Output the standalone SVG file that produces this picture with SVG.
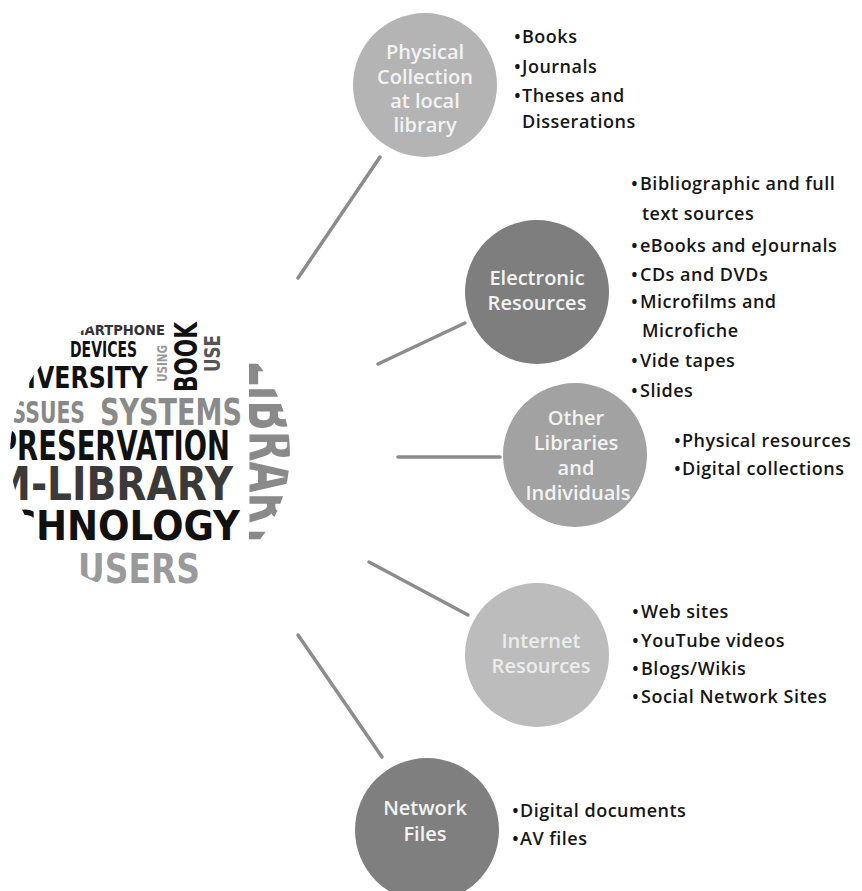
<svg xmlns="http://www.w3.org/2000/svg" width="862" height="891" viewBox="0 0 862 891">
<style>
.nt{font-family:"Open Sans","Noto Sans",sans-serif;font-weight:600;font-size:20px;fill:#f3f3f3;text-anchor:middle;}
.bl{font-family:"Open Sans","Noto Sans",sans-serif;font-weight:600;font-size:18px;fill:#161616;letter-spacing:0.5px;}
.wc{font-family:"DejaVu Sans","Noto Sans",sans-serif;font-weight:bold;}
.conn line{stroke:#8c8c8c;stroke-width:3.5;stroke-linecap:round;}
</style>
<defs>
<clipPath id="cloudClip"><circle cx="150" cy="453" r="140"/></clipPath>
</defs>
<rect width="862" height="891" fill="#ffffff"/>

<g id="connectors" class="conn">
<line x1="298" y1="278" x2="380" y2="157"/>
<line x1="378" y1="364" x2="465" y2="323"/>
<line x1="398" y1="457" x2="500" y2="457"/>
<line x1="369" y1="562" x2="468" y2="615"/>
<line x1="298" y1="635" x2="382" y2="757"/>
</g>

<g id="wordcloud" clip-path="url(#cloudClip)">
<text class="wc" x="62" y="335" font-size="14" fill="#333" textLength="103" lengthAdjust="spacingAndGlyphs">SMARTPHONE</text>
<text class="wc" x="70" y="357" font-size="22" fill="#111" textLength="67" lengthAdjust="spacingAndGlyphs">DEVICES</text>
<text class="wc" x="-12" y="388" font-size="31" fill="#111" textLength="160" lengthAdjust="spacingAndGlyphs">UNIVERSITY</text>
<text class="wc" transform="translate(167,382) rotate(-90)" font-size="14" fill="#999" textLength="37" lengthAdjust="spacingAndGlyphs">USING</text>
<text class="wc" transform="translate(197,392) rotate(-90)" font-size="32" fill="#111" textLength="70" lengthAdjust="spacingAndGlyphs">BOOK</text>
<text class="wc" transform="translate(220,372) rotate(-90)" font-size="22" fill="#555" textLength="37" lengthAdjust="spacingAndGlyphs">USE</text>
<text class="wc" x="4" y="423" font-size="30" fill="#888" textLength="81" lengthAdjust="spacingAndGlyphs">ISSUES</text>
<text class="wc" x="100" y="425" font-size="37" fill="#8a8a8a" textLength="142" lengthAdjust="spacingAndGlyphs">SYSTEMS</text>
<text class="wc" x="-3" y="460" font-size="40" fill="#111" textLength="233" lengthAdjust="spacingAndGlyphs">PRESERVATION</text>
<text class="wc" x="-8" y="500" font-size="46" fill="#3a3a3a" textLength="241" lengthAdjust="spacingAndGlyphs">M-LIBRARY</text>
<text class="wc" x="-42" y="540" font-size="40" fill="#111" textLength="282" lengthAdjust="spacingAndGlyphs">TECHNOLOGY</text>
<text class="wc" x="78" y="583" font-size="40" fill="#9a9a9a" textLength="122" lengthAdjust="spacingAndGlyphs">USERS</text>
<text class="wc" transform="translate(249,360) rotate(90)" font-size="64" fill="#8a8a8a" textLength="190" lengthAdjust="spacingAndGlyphs">LIBRARY</text>
</g>

<g id="physical">
<circle cx="425" cy="85" r="72" fill="#b4b4b4"/>
<text class="nt" x="425" y="59">Physical</text>
<text class="nt" x="425" y="84">Collection</text>
<text class="nt" x="425" y="108">at local</text>
<text class="nt" x="425" y="132">library</text>
</g>
<g id="physical-items" class="bl">
<text x="514" y="43">•<tspan x="522">Books</tspan></text>
<text x="514" y="73">•<tspan x="522">Journals</tspan></text>
<text x="514" y="102">•<tspan x="522">Theses and</tspan></text>
<text x="522" y="128">Disserations</text>
</g>

<g id="electronic">
<circle cx="537" cy="292" r="72" fill="#7e7e7e"/>
<text class="nt" x="537" y="285">Electronic</text>
<text class="nt" x="537" y="310">Resources</text>
</g>
<g id="electronic-items" class="bl">
<text x="631" y="190">•<tspan x="640">Bibliographic and full</tspan></text>
<text x="642" y="220">text sources</text>
<text x="631" y="252">•<tspan x="640">eBooks and eJournals</tspan></text>
<text x="631" y="281">•<tspan x="640">CDs and DVDs</tspan></text>
<text x="631" y="308">•<tspan x="640">Microfilms and</tspan></text>
<text x="642" y="337">Microfiche</text>
<text x="631" y="367">•<tspan x="640">Vide tapes</tspan></text>
<text x="631" y="397">•<tspan x="640">Slides</tspan></text>
</g>

<g id="other">
<circle cx="575" cy="455" r="72" fill="#a2a2a2"/>
<text class="nt" x="576" y="425">Other</text>
<text class="nt" x="576" y="450">Libraries</text>
<text class="nt" x="576" y="475">and</text>
<text class="nt" x="578" y="500">Individuals</text>
</g>
<g id="other-items" class="bl">
<text x="674" y="447">•<tspan x="682">Physical resources</tspan></text>
<text x="674" y="475">•<tspan x="682">Digital collections</tspan></text>
</g>

<g id="internet">
<circle cx="537" cy="655" r="72" fill="#bcbcbc"/>
<text class="nt" x="541" y="648" style="fill:#ececec">Internet</text>
<text class="nt" x="541" y="673" style="fill:#ececec">Resources</text>
</g>
<g id="internet-items" class="bl">
<text x="632" y="618">•<tspan x="641">Web sites</tspan></text>
<text x="632" y="647">•<tspan x="641">YouTube videos</tspan></text>
<text x="632" y="675">•<tspan x="641">Blogs/Wikis</tspan></text>
<text x="632" y="703">•<tspan x="641">Social Network Sites</tspan></text>
</g>

<g id="network">
<circle cx="427" cy="830" r="72" fill="#7f7f7f"/>
<text class="nt" x="425" y="815">Network</text>
<text class="nt" x="425" y="841">Files</text>
</g>
<g id="network-items" class="bl">
<text x="512" y="817">•<tspan x="520">Digital documents</tspan></text>
<text x="512" y="845">•<tspan x="520">AV files</tspan></text>
</g>
</svg>
